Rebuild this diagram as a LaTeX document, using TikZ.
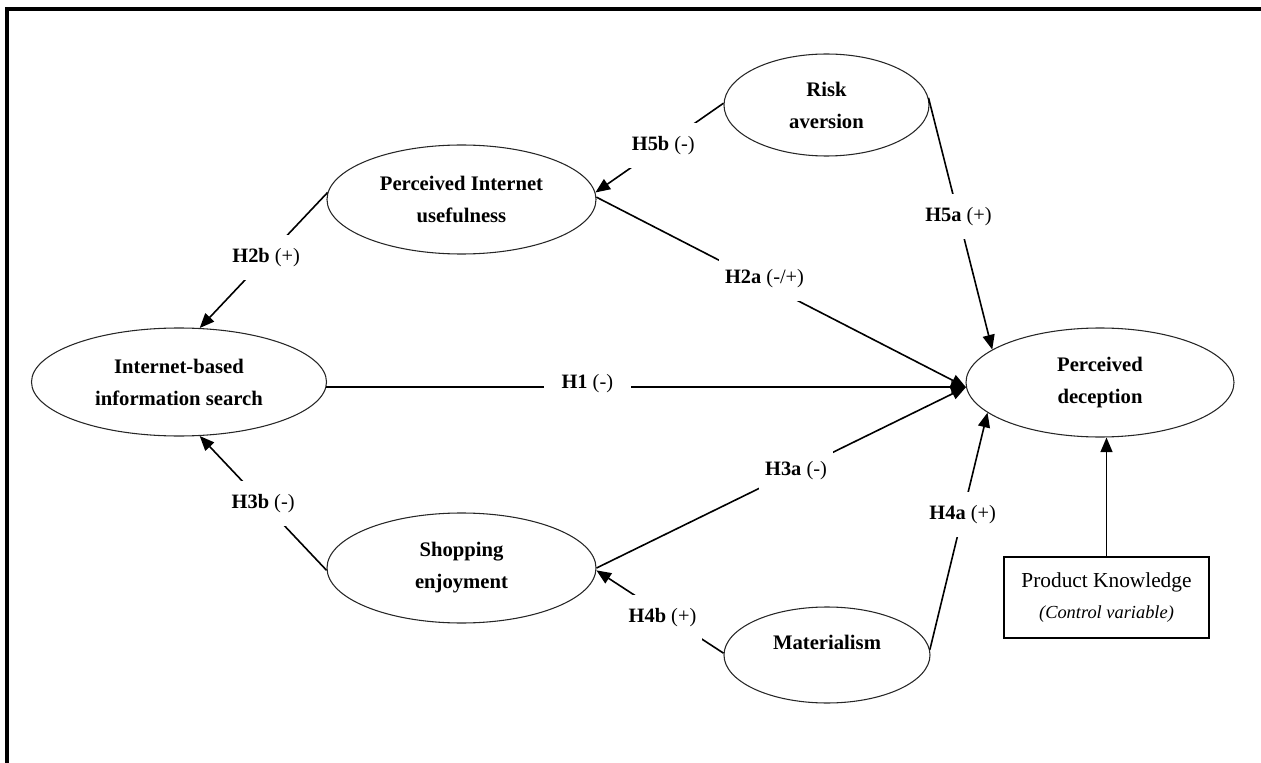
\documentclass[tikz,border=0pt]{standalone}
\usepackage{fontspec}
\setmainfont{Liberation Serif}
\usetikzlibrary{shapes.geometric,arrows.meta}
\begin{document}
\begin{tikzpicture}[x=0.75pt,y=-0.75pt,
  construct/.style={draw=black!85, line width=0.8pt, ellipse, inner sep=0pt,
    align=center, font=\fontsize{15.5}{24}\selectfont\bfseries},
  link/.style={line width=1.2pt, -{Triangle[length=11pt,width=9pt]}},
  hyp/.style={fill=white, inner xsep=4.5pt, inner ysep=10pt,
    font=\fontsize{15.3}{18}\selectfont}
]
\useasboundingbox (0,0) rectangle (1261,763);
\clip (0,0) rectangle (1261,763);
% outer frame
\draw[line width=2.3pt] (7,9) rectangle (1300,800);

% constructs
\node[construct, minimum width=221.25pt, minimum height=81pt] (ib) at (179,382)
  {Internet-based\\information search};
\node[construct, minimum width=201.75pt, minimum height=81.75pt] (piu) at (461.5,199.5)
  {Perceived Internet\\usefulness};
\node[construct, minimum width=153.75pt, minimum height=76.5pt] (ra) at (826.5,105)
  {Risk\\aversion};
\node[construct, minimum width=201pt, minimum height=81.75pt] (pd) at (1100,382.5)
  {Perceived\\deception};
\node[construct, minimum width=201.75pt, minimum height=82.5pt] (se) at (461.5,568)
  {Shopping\\enjoyment};
\node[construct, minimum width=154.5pt, minimum height=72pt,
  text height=10.6pt, text depth=19.6pt] (mat) at (827,655) {Materialism};

% control variable
\node[draw, line width=0.8pt, inner sep=0pt, minimum width=153.75pt,
  minimum height=60.75pt, align=center, font=\fontsize{16}{23}\selectfont] (pk) at (1106.5,597.5)
  {Product Knowledge\\{\fontsize{13.8}{23}\selectfont\itshape (Control variable)}};

% hypothesised paths
\coordinate (pdin) at (pd.182.4);
\draw[link] (ra.179) -- node[hyp, pos=0.47] {\textbf{H5b} (-)} (piu.3);
\draw[link] (piu.1) -- node[hyp, pos=0.455, yshift=4pt] {\textbf{H2a} (-/+)} (pdin);
\draw[link] (ib.-2.3 |- pdin) -- node[hyp, pos=0.408, inner xsep=13.5pt, yshift=3pt] {\textbf{H1} (-)} (pdin);
\draw[link] (se.0) -- node[hyp, pos=0.54] {\textbf{H3a} (-)} (pdin);
\draw[link] (piu.177.5) -- node[hyp, pos=0.48] {\textbf{H2b} (+)} (ib.69.7);
\draw[link] (se.181) -- node[hyp, pos=0.5] {\textbf{H3b} (-)} (ib.-69.7);
\draw[link] (mat.179) -- node[hyp, pos=0.48, yshift=-3pt] {\textbf{H4b} (+)} (se.-1);
\draw[link] (mat.3) -- node[hyp, pos=0.57] {\textbf{H4a} (+)} (pd.195.5);
\draw[link] (ra.4.5) -- node[hyp, pos=0.47] {\textbf{H5a} (+)} (pd.163.5);
\draw[link] (pk.north) -- (pk.north |- pd.south);
\end{tikzpicture}
\end{document}
